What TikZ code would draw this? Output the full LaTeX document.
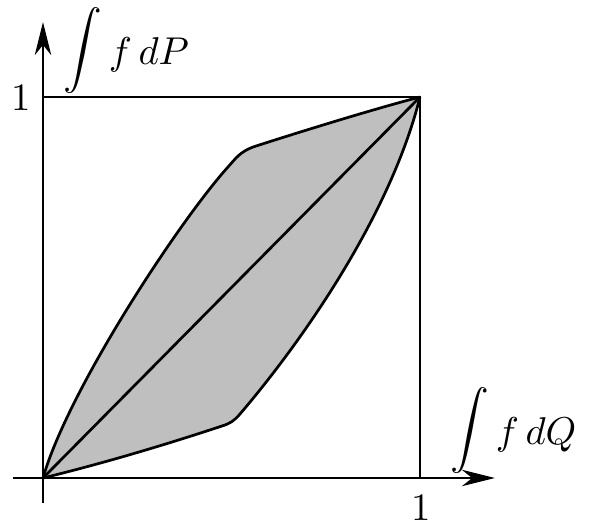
\documentclass[tikz,border=0pt]{standalone}
\usetikzlibrary{arrows.meta}
\definecolor{fillgray}{gray}{0.75}
\begin{document}
\begin{tikzpicture}[x=0.258pt,y=-0.258pt,
  curve/.style={line width=0.7pt, line join=round},
  frame/.style={line width=0.7pt, line join=miter},
  axis/.style={line width=0.75pt, -{Stealth[length=8.5pt,width=4.2pt,inset=2.6pt]}},
  lbl/.style={inner sep=0pt, font=\fontsize{10}{12}\selectfont}]
\useasboundingbox (0,0) rectangle (591,527);
\coordinate (O) at (43,478);
\coordinate (T) at (420,97);
\coordinate (TL) at (43,97);
\coordinate (BR) at (420,478);
\coordinate (xs) at (13,478);
\coordinate (xe) at (495,478);
\coordinate (ys) at (43,503);
\coordinate (ye) at (43,22);
\coordinate (uk1) at (228,167);
\coordinate (uk2) at (253,147);
\coordinate (lk1) at (222,426);
\coordinate (lk2) at (240,414);
% shaded region
\fill[fillgray] (O) .. controls (68,390) and (180,220) .. (uk1)
  .. controls (236,158) and (240,152) .. (uk2)
  .. controls (290,135) and (370,110) .. (T)
  .. controls (390,217) and (300,343.8) .. (lk2)
  .. controls (234,421) and (230,423.5) .. (lk1)
  .. controls (162,445.8) and (103,463.3) .. (O) -- cycle;
% upper curve
\draw[curve] (O) .. controls (68,390) and (180,220) .. (uk1)
  .. controls (236,158) and (240,152) .. (uk2)
  .. controls (290,135) and (370,110) .. (T);
% lower curve
\draw[curve] (O) .. controls (103,463.3) and (162,445.8) .. (lk1)
  .. controls (230,423.5) and (234,421) .. (lk2)
  .. controls (300,343.8) and (390,217) .. (T);
% diagonal
\draw[curve] (O) -- (T);
% square
\draw[frame] (TL) -- (T) -- (BR);
% axes
\draw[axis] (xs) -- (xe);
\draw[axis] (ys) -- (ye);
% labels
\node[lbl, anchor=base] (one x) at (421,520) {1};
\node[lbl, anchor=base] (one y) at (21,110) {1};
\node[lbl, anchor=base west] (labP) at (63,64) {$\smash{\raisebox{1.0pt}{$\displaystyle\int$}}\, f\,dP$};
\node[lbl, anchor=base west] (labQ) at (450,444) {$\smash{\raisebox{1.0pt}{$\displaystyle\int$}}\, f\,dQ$};
\end{tikzpicture}
\end{document}
